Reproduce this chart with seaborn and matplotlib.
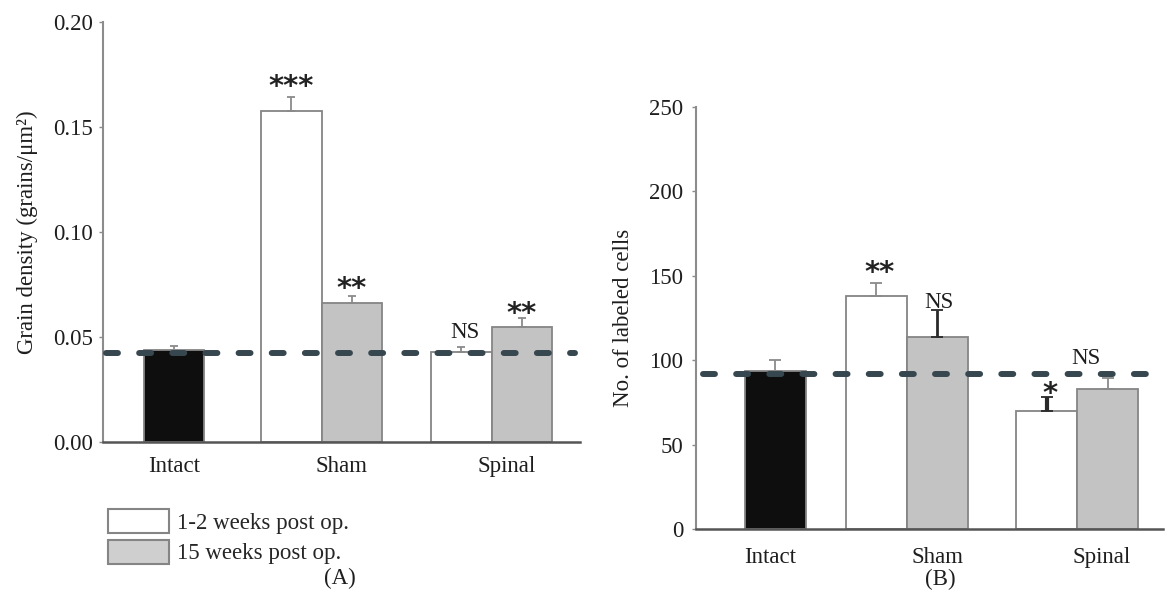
import numpy as np
import pandas as pd
import matplotlib
matplotlib.use("Agg")
import matplotlib.pyplot as plt
import seaborn as sns
from matplotlib.patches import Patch

# ---------------- data ----------------
categories = ["Intact", "Sham", "Spinal"]
series_names = ["Intact", "1-2 weeks post op.", "15 weeks post op."]
legend_labels = ["1-2 weeks post op.", "15 weeks post op."]

bar_groups = ["Intact", "Sham", "Sham", "Spinal", "Spinal"]
bar_series = ["Intact", "1-2 weeks post op.", "15 weeks post op.",
              "1-2 weeks post op.", "15 weeks post op."]

a_values = [0.0436, 0.1576, 0.0659, 0.0426, 0.0548]
a_errors = [0.0020, 0.0064, 0.0036, 0.0026, 0.0040]
a_reference = 0.042
a_marks = ["", "***", "**", "NS", "**"]
a_yticks = [0.00, 0.05, 0.10, 0.15, 0.20]

b_values = [93.8, 138.2, 114.0, 70.0, 83.2]
b_errors = [6.2, 7.4, 15.8, 8.5, 6.5]
b_reference = 92.1
b_marks = ["", "**", "NS", "*", "NS"]
b_yticks = [0, 50, 100, 150, 200, 250]

# ---------------- style / layout ----------------
sns.set_style("white")
plt.rcParams["font.family"] = ["Liberation Serif", "DejaVu Sans"]

FS = 16.5
TXT = "#1e1e1e"
palette = {"Intact": "#0e0e0e", "1-2 weeks post op.": "#ffffff",
           "15 weeks post op.": "#c3c3c3"}
series_offset = {"Intact": 0.0, "1-2 weeks post op.": -0.5,
                 "15 weeks post op.": 0.5}
EDGE = "#858585"
DASH = "#37474f"

fig = plt.figure(figsize=(11.65, 5.9), dpi=100)

panels = [
    dict(rect=[0.0882, 0.2514, 0.4097, 0.7118], xlim=(0, 7.89),
         centers=[1.18, 3.62, 6.43], label_x=[1.18, 3.95, 6.67],
         values=a_values, errors=a_errors, ref=a_reference, marks=a_marks,
         yticks=a_yticks, ylim=(0, 0.20), fmt="{:.2f}",
         ylabel="Grain density (grains/μm²)", tag="(A)",
         tag_xy=(340 / 1165, 1 - 578 / 590),
         gaps=[0, 14, 10.5, 8.5, 8], dxs=[0, 0, 0, 3, 0],
         ecolors=["#8a8a8a"] * 5, elws=[1.3] * 5, capsize=3.0,
         dash_x=(0.006, 0.99), xpad=10.5, ypad=4),
    dict(rect=[0.5974, 0.1029, 0.4009, 0.7163], xlim=(0, 7.66),
         centers=[1.30, 3.46, 6.25], label_x=[1.21, 3.96, 6.65],
         values=b_values, errors=b_errors, ref=b_reference, marks=b_marks,
         yticks=b_yticks, ylim=(0, 250), fmt="{:d}",
         ylabel="No. of labeled cells", tag="(B)",
         tag_xy=(940 / 1165, 1 - 579 / 590),
         gaps=[0, 14, 2, 6.5, 14], dxs=[0, 3, 2, 3, -22],
         ecolors=["#8a8a8a", "#8a8a8a", "#2a2a2a", "#2a2a2a", "#8a8a8a"],
         elws=[1.3, 1.3, 2.0, 3.0, 1.3], capsize=4.3,
         dash_x=(0.016, 0.99), xpad=12.5, ypad=6),
]

for p in panels:
    ax = fig.add_axes(p["rect"])
    center_of = dict(zip(categories, p["centers"]))
    xpos = [center_of[g] + series_offset[s] for g, s in zip(bar_groups, bar_series)]
    df = pd.DataFrame({"x": xpos, "value": p["values"], "series": bar_series})

    sns.barplot(data=df, x="x", y="value", hue="series", hue_order=series_names,
                palette=palette, native_scale=True, dodge=False, width=1.0,
                saturation=1, errorbar=None, edgecolor=EDGE, linewidth=1.3,
                legend=False, ax=ax, zorder=2)

    # error bars (upper only)
    for x, v, e, c, lw in zip(xpos, p["values"], p["errors"], p["ecolors"], p["elws"]):
        ax.errorbar([x], [v], yerr=[[0], [e]], fmt="none", ecolor=c,
                    elinewidth=lw, capsize=p["capsize"], capthick=1.3, zorder=3)

    # reference dashed line
    ax.axhline(p["ref"], xmin=p["dash_x"][0], xmax=p["dash_x"][1], color=DASH,
               lw=4.3, linestyle=(0, (2.0, 3.55)), dash_capstyle="round",
               zorder=5)

    # significance marks
    for x, v, e, m, gap, dx in zip(xpos, p["values"], p["errors"], p["marks"],
                                   p["gaps"], p["dxs"]):
        if not m:
            continue
        if "*" in m:
            fs = 21
            dy = gap - 0.40 * fs * 100 / 72
            ax.annotate(m, xy=(x, v + e), xytext=(dx, dy), textcoords="offset pixels",
                        ha="center", va="baseline", fontsize=fs,
                        fontfamily="DejaVu Sans", fontweight="bold", color="#222222",
                        zorder=6)
        else:
            ax.annotate(m, xy=(x, v + e), xytext=(dx, gap), textcoords="offset pixels",
                        ha="center", va="baseline", fontsize=FS, color=TXT,
                        zorder=6)

    ax.set_xlim(*p["xlim"])
    ax.set_ylim(*p["ylim"])
    ax.set_yticks(p["yticks"])
    ax.set_yticklabels([p["fmt"].format(t) for t in p["yticks"]], fontsize=FS,
                       color=TXT)
    ax.set_xticks(p["label_x"])
    ax.set_xticklabels(categories, fontsize=FS, color=TXT)
    ax.tick_params(axis="x", length=0, pad=p["xpad"])
    ax.tick_params(axis="y", length=3, width=1, color="#8a8a8a", pad=p["ypad"],
                   direction="out", left=True)
    ax.set_xlabel("")
    ax.set_ylabel(p["ylabel"], fontsize=FS, color=TXT, labelpad=11)

    for s in ["top", "right"]:
        ax.spines[s].set_visible(False)
    ax.spines["left"].set_color("#8c8c8c")
    ax.spines["left"].set_linewidth(1.5)
    ax.spines["bottom"].set_color("#555555")
    ax.spines["bottom"].set_linewidth(1.8)

    fig.text(p["tag_xy"][0], p["tag_xy"][1], p["tag"], ha="center", va="center",
             fontsize=FS, color=TXT)

# legend for panel A
handles = [Patch(facecolor=palette[legend_labels[0]], edgecolor=EDGE, linewidth=1.5),
           Patch(facecolor="#cfcfcf", edgecolor=EDGE, linewidth=1.5)]
fig.legend(handles=handles, labels=legend_labels, loc="upper left",
           bbox_to_anchor=(108 / 1165, 1 - 509 / 590), frameon=False,
           borderpad=0, borderaxespad=0, handlelength=2.65, handleheight=1.257,
           handletextpad=0.35, labelspacing=0.25, fontsize=FS)

fig.savefig("out.png", dpi=100)
